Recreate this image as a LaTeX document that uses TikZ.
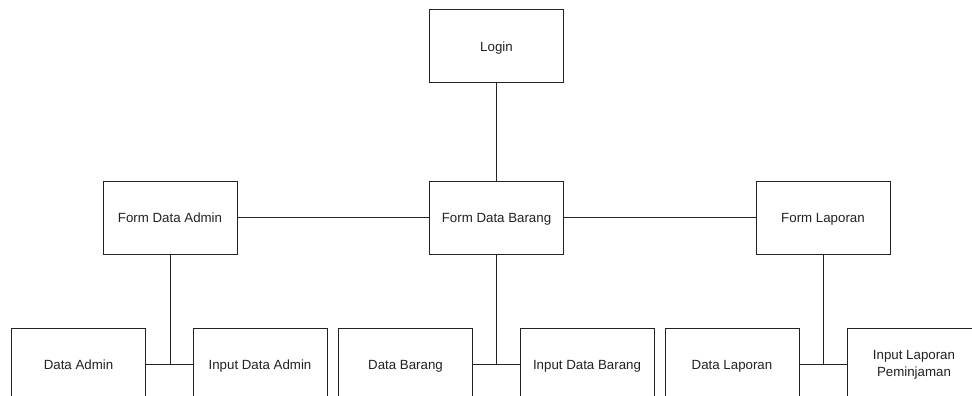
\documentclass[tikz,border=0pt]{standalone}
\usepackage{fontspec}
\setmainfont{Liberation Sans}
\definecolor{ink}{HTML}{222222}
\tikzset{
  boxbase/.style={draw=ink, line width=1pt, fill=white, minimum width=134pt, minimum height=73pt,
    inner sep=2pt, align=center, text=ink, font=\fontsize{13.3}{17}\selectfont},
  box/.style={boxbase, text height=13.2pt, text depth=2.8pt},
  link/.style={draw=ink, line width=1pt}
}
\begin{document}
\begin{tikzpicture}[x=1pt, y=-1pt]
  \useasboundingbox (0,0) rectangle (972,396);
  \clip (0,0) rectangle (972,396);
  \fill[white] (0,0) rectangle (972,396);

  % top level
  \node[box] (login) at (496.5,46.5) {Login};

  % forms
  \node[box] (fda) at (170,217.5) {Form Data Admin};
  \node[box] (fdb) at (496.5,217.5) {Form Data Barang};
  \node[box] (fl)  at (823,217.5) {Form Laporan};

  % detail boxes
  \node[box] (da)  at (78.5,364.5)  {Data Admin};
  \node[box] (ida) at (260,364.5)   {Input Data Admin};
  \node[box] (db)  at (405.5,364.5) {Data Barang};
  \node[box] (idb) at (587,364.5)   {Input Data Barang};
  \node[box] (dl)  at (732,364.5)   {Data Laporan};
  \node[boxbase] (ilp) at (914,364.5) {Input Laporan\\Peminjaman};

  % connectors
  \draw[link] (login.south) -- (fdb.north);
  \draw[link] (fda.east) -- (fdb.west);
  \draw[link] (fdb.east) -- (fl.west);

  \draw[link] (da.east) -- (ida.west);
  \draw[link] (fda.south) -- (fda.south |- da.east);
  \draw[link] (db.east) -- (idb.west);
  \draw[link] (fdb.south) -- (fdb.south |- db.east);
  \draw[link] (dl.east) -- (ilp.west);
  \draw[link] (fl.south) -- (fl.south |- dl.east);
\end{tikzpicture}
\end{document}
